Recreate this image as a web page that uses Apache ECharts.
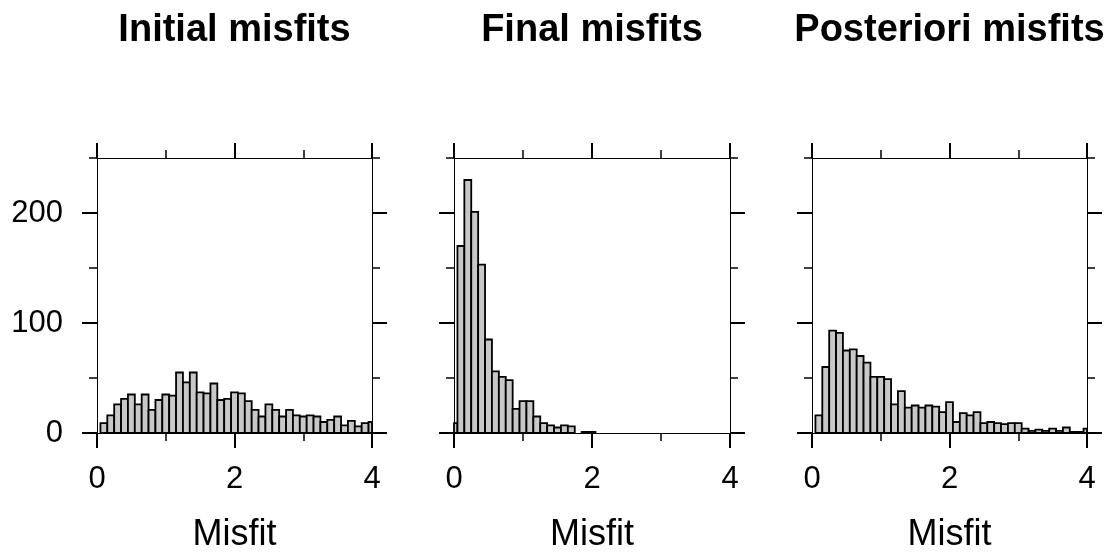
<!DOCTYPE html>
<html>
<head>
<meta charset="utf-8">
<script src="https://cdn.jsdelivr.net/npm/echarts@6/dist/echarts.min.js"></script>
<style>
html,body{margin:0;padding:0;background:#ffffff;}
#chart{width:1112px;height:554px;}
</style>
</head>
<body>
<div id="chart"></div>
<script>
// ---- data ----
const binCenters = [0.0,0.1,0.2,0.3,0.4,0.5,0.6,0.7,0.8,0.9,1.0,1.1,1.2,1.3,1.4,1.5,1.6,1.7,1.8,1.9,2.0,
                    2.1,2.2,2.3,2.4,2.5,2.6,2.7,2.8,2.9,3.0,3.1,3.2,3.3,3.4,3.5,3.6,3.7,3.8,3.9,4.0];
const initialCounts = [0,9,16,26,31,35,26,35,21,30,35,34,55,46,55,37,36,45,30,31,37,
                       36,29,21,15,26,21,15,21,16,15,16,15,10,12,15,7,11,6,9,10];
const finalCounts = [9,170,230,201,153,85,56,51,48,22,29,29,15,9,7,5,7,6,0,1,1,
                     0,0,0,0,0,0,0,0,0,0,0,0,0,0,0,0,0,0,0,0];
const posterioriCounts = [0,16,60,93,91,75,76,70,64,51,51,49,26,38,23,25,23,25,24,19,28,
                          10,18,16,19,9,10,9,8,9,9,4,2,3,2,4,2,5,1,1,4];
const panelTitles = ['Initial misfits', 'Final misfits', 'Posteriori misfits'];
const xAxisTitle = 'Misfit';
const yMajorTicks = [0, 100, 200];
const yMinorTicks = [50, 150, 250];
const xMin = 0, xMax = 4, xInterval = 2;
const yMin = 0, yMax = 250;
const binWidth = 0.1;

// ---- layout / style ----
const FONT = '"Liberation Sans", Arial, Helvetica, sans-serif';
const grids = [
  {left: 97, top: 158, width: 275, height: 275},
  {left: 454, top: 158, width: 276, height: 275},
  {left: 812, top: 158, width: 275, height: 275}
];
const MAJOR_LEN = 15, MINOR_LEN = 8;
const lineStyle = {color: '#000', width: 1};

const panelData = [initialCounts, finalCounts, posterioriCounts];

function renderBin(params, api) {
  const c = api.value(0), h = api.value(1);
  if (!h) return null;
  const p0 = api.coord([c - binWidth / 2, h]);
  const p1 = api.coord([c + binWidth / 2, 0]);
  const cs = params.coordSys;
  const shape = echarts.graphic.clipRectByRect(
    {x: p0[0], y: p0[1], width: p1[0] - p0[0], height: p1[1] - p0[1]},
    {x: cs.x, y: cs.y, width: cs.width, height: cs.height});
  if (!shape) return null;
  return {type: 'rect', shape: shape,
          style: {fill: '#c8c8c8', stroke: '#000', lineWidth: 1.8}};
}

const xAxes = [], yAxes = [], series = [], graphics = [];
grids.forEach((g, i) => {
  ['bottom', 'top'].forEach(pos => {
    xAxes.push({
      type: 'value', gridIndex: i, position: pos, min: xMin, max: xMax, interval: xInterval,
      axisLine: {show: true, onZero: false, lineStyle: lineStyle},
      axisTick: {show: true, length: MAJOR_LEN, lineStyle: {color: '#000', width: 2}},
      minorTick: {show: true, splitNumber: 2, length: MINOR_LEN, lineStyle: {color: '#000', width: 1.5}},
      splitLine: {show: false}, minorSplitLine: {show: false},
      axisLabel: {show: pos === 'bottom', margin: 31, color: '#000', fontSize: 31, fontFamily: FONT},
      name: pos === 'bottom' ? xAxisTitle : '', nameLocation: 'middle', nameGap: 84,
      nameTextStyle: {color: '#000', fontSize: 36, fontFamily: FONT}
    });
  });
  ['left', 'right'].forEach(pos => {
    yAxes.push({
      type: 'value', gridIndex: i, position: pos, min: yMin, max: yMax,
      axisLine: {show: true, onZero: false, lineStyle: lineStyle},
      axisTick: {show: true, length: MAJOR_LEN, customValues: yMajorTicks,
                 lineStyle: {color: '#000', width: 2}},
      splitLine: {show: false},
      axisLabel: {show: pos === 'left' && i === 0, customValues: yMajorTicks, margin: 34,
                  color: '#000', fontSize: 31, fontFamily: FONT}
    });
    yAxes.push({
      type: 'value', gridIndex: i, position: pos, min: yMin, max: yMax,
      axisLine: {show: false, onZero: false},
      axisTick: {show: true, length: MINOR_LEN, customValues: yMinorTicks,
                 lineStyle: {color: '#000', width: 1.5}},
      splitLine: {show: false},
      axisLabel: {show: false}
    });
  });
  series.push({
    type: 'custom', xAxisIndex: i * 2, yAxisIndex: i * 4,
    renderItem: renderBin,
    encode: {x: 0, y: 1},
    data: binCenters.map((c, k) => [c, panelData[i][k]]),
    z: 1
  });
  graphics.push({
    type: 'text', x: g.left + g.width / 2, y: 31,
    style: {text: panelTitles[i], fill: '#000', font: 'bold 38px ' + FONT,
            textAlign: 'center', textVerticalAlign: 'middle'}
  });
});

const chart = echarts.init(document.getElementById('chart'), null, {renderer: 'canvas'});
chart.setOption({
  animation: false,
  backgroundColor: '#ffffff',
  grid: grids,
  xAxis: xAxes,
  yAxis: yAxes,
  series: series,
  graphic: graphics
});
</script>
</body>
</html>
